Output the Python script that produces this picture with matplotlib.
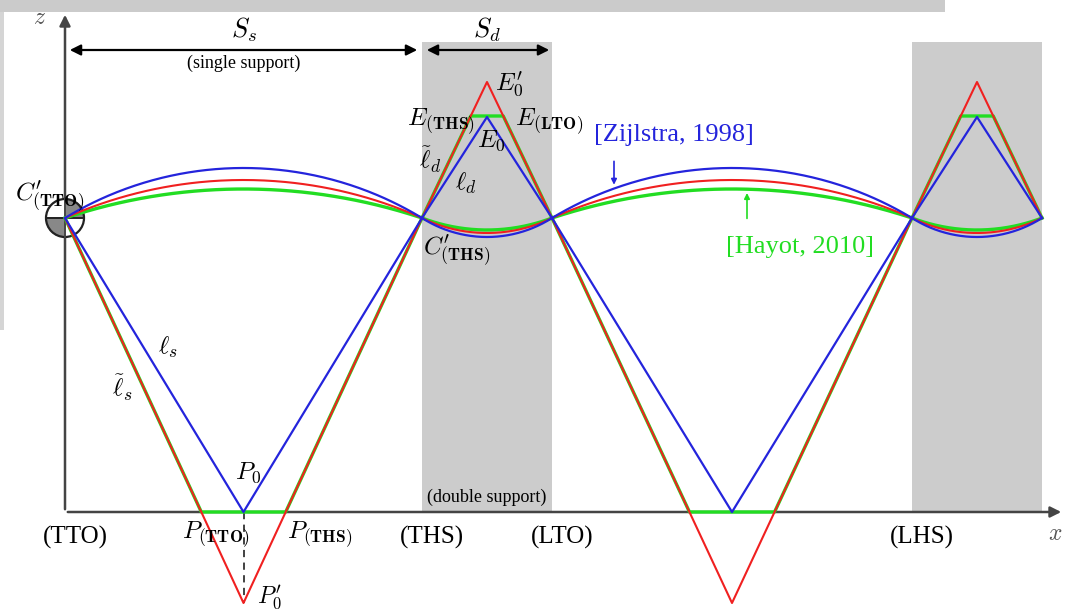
import numpy as np
import matplotlib.pyplot as plt
from matplotlib.patches import Rectangle, Wedge, Circle

plt.rcParams['font.family'] = ['Liberation Serif', 'DejaVu Serif']
plt.rcParams['mathtext.fontset'] = 'cm'

# gait phases along x (TTO at 0), units ~ pixels
phase_x = [0, 357, 487, 847, 977]
phase_kind = ['single', 'double', 'single', 'double']
event_labels = ['(TTO)', '(THS)', '(LTO)', '(LHS)']

pelvis_h = 294  # height of C' at every phase change

# three models, same order everywhere
models = ['green', 'red', 'blue']
model_colors = ['#22dd22', '#f02020', '#2424dc']
model_lw = [2.4, 1.5, 1.6]
arc_peak = [323, 332, 344]   # top of the single support arc
arc_dip = [282, 279, 275]    # bottom of the double support arc
foot_z = [0, -91, 0]         # flat foot / P0' / P0
apex_z = [396, 430, 395]     # flat E / E0' / E0

# pointers to the curves
zij_x = 549
hay_x = 682


def arc(x0, x1, h, top, n=200):
    # circle through (x0,h), (x1,h) and (mid, top)
    a = (x1 - x0) / 2
    mid = (x0 + x1) / 2
    c = (top ** 2 - a ** 2 - h ** 2) / (2 * (top - h))
    r = abs(top - c)
    xs = np.linspace(x0, x1, n)
    sgn = 1 if top > c else -1
    return xs, c + sgn * np.sqrt(r ** 2 - (xs - mid) ** 2)


def legs(x0, x1, h, tip, clip=None, ref=None):
    # triangle from (x0,h) to (mid,tip) to (x1,h); clipped flat at clip
    mid = (x0 + x1) / 2
    if clip is None:
        return [x0, mid, x1], [h, tip, h]
    t = (h - clip) / (h - ref)
    xa = x0 + t * (mid - x0)
    return [x0, xa, x1 - (xa - x0), x1], [h, clip, clip, h]


fig = plt.figure(figsize=(10.67, 6.13), dpi=100)
ax = fig.add_axes([0, 0, 1, 1])
ax.set_xlim(-65, 1002)
ax.set_ylim(-101, 512)
ax.axis('off')

# faded background strip at the top / left edge
ax.add_patch(Rectangle((-65, 500), 945, 12, color='#cbcbcb', lw=0, zorder=0))
ax.add_patch(Rectangle((-65, 182), 4, 318, color='#d5d5d5', lw=0, zorder=0))

# double support boxes
for i, kind in enumerate(phase_kind):
    if kind == 'double':
        ax.add_patch(Rectangle((phase_x[i], 0), phase_x[i + 1] - phase_x[i], 470,
                               color='#cccccc', lw=0, zorder=1))

# axes
ax.annotate('', xy=(0, 500), xytext=(0, 0),
            arrowprops=dict(arrowstyle='-|>', color='#444444', lw=1.8, mutation_scale=16),
            zorder=2)
ax.annotate('', xy=(999, 0), xytext=(0, 0),
            arrowprops=dict(arrowstyle='-|>', color='#444444', lw=1.8, mutation_scale=16),
            zorder=2)
ax.text(-25, 493, '$z$', fontsize=17, color='#555555', ha='center', va='center')
ax.text(990, -23, '$x$', fontsize=17, color='#555555', ha='center', va='center')

# CoM symbol at C'(TTO)
ax.add_patch(Wedge((0, pelvis_h), 19, 0, 90, color='#888888', zorder=3))
ax.add_patch(Wedge((0, pelvis_h), 19, 90, 180, color='white', zorder=3))
ax.add_patch(Wedge((0, pelvis_h), 19, 180, 270, color='#888888', zorder=3))
ax.add_patch(Wedge((0, pelvis_h), 19, 270, 360, color='white', zorder=3))
ax.add_patch(Circle((0, pelvis_h), 19, fill=False, ec='#222222', lw=1.6, zorder=3))
ax.plot([-19, 19], [pelvis_h, pelvis_h], color='#222222', lw=1.4, zorder=3)
ax.plot([0, 0], [pelvis_h - 19, pelvis_h + 19], color='#444444', lw=1.4, zorder=3)

# curves
ref = models.index('red')
for m, col, lw in zip(range(len(models)), model_colors, model_lw):
    for i, kind in enumerate(phase_kind):
        x0, x1 = phase_x[i], phase_x[i + 1]
        if kind == 'single':
            xs, zs = arc(x0, x1, pelvis_h, arc_peak[m])
            tip, ref_tip = foot_z[m], foot_z[ref]
        else:
            xs, zs = arc(x0, x1, pelvis_h, arc_dip[m])
            tip, ref_tip = apex_z[m], apex_z[ref]
        ax.plot(xs, zs, color=col, lw=lw, zorder=5 + m)
        if models[m] == 'green':
            lx, lz = legs(x0, x1, pelvis_h, tip, clip=tip, ref=ref_tip)
        else:
            lx, lz = legs(x0, x1, pelvis_h, tip)
        ax.plot(lx, lz, color=col, lw=lw, zorder=5 + m)

# P0 - P0' dashed
mid0 = (phase_x[0] + phase_x[1]) / 2
ax.plot([mid0, mid0], [foot_z[2], foot_z[1]], color='#333333', lw=1.3,
        ls=(0, (4, 3)), zorder=4)

# span arrows
ax.annotate('', xy=(phase_x[0] + 2, 462), xytext=(phase_x[1] - 2, 462),
            arrowprops=dict(arrowstyle='<|-|>', color='black', lw=1.6, mutation_scale=16))
ax.annotate('', xy=(phase_x[1] + 2, 462), xytext=(phase_x[2], 462),
            arrowprops=dict(arrowstyle='<|-|>', color='black', lw=1.6, mutation_scale=16))
ax.text((phase_x[0] + phase_x[1]) / 2, 482, '$S_s$', fontsize=19, ha='center', va='center')
ax.text((phase_x[1] + phase_x[2]) / 2, 482, '$S_d$', fontsize=19, ha='center', va='center')
ax.text((phase_x[0] + phase_x[1]) / 2, 449, '(single support)', fontsize=13,
        ha='center', va='center')
ax.text((phase_x[1] + phase_x[2]) / 2, 15, '(double support)', fontsize=13,
        ha='center', va='center')

# events
for x, lab in zip(phase_x[:4], event_labels):
    ax.text(x + 10, -25, lab, fontsize=18, ha='center', va='center')

# point / length labels
labels = [
    (-50, 316, "$C^{\\prime}_{\\mathbf{(TTO)}}$"),
    (358, 262, "$C^{\\prime}_{\\mathbf{(THS)}}$"),
    (430, 428, "$E^{\\prime}_0$"),
    (342, 390, "$E_{\\mathbf{(THS)}}$"),
    (450, 390, "$E_{\\mathbf{(LTO)}}$"),
    (412, 371, "$E_0$"),
    (354, 352, "$\\tilde{\\ell}_d$"),
    (390, 329, "$\\ell_d$"),
    (93, 165, "$\\ell_s$"),
    (47, 124, "$\\tilde{\\ell}_s$"),
    (170, 39, "$P_0$"),
    (117, -23, "$P_{\\mathbf{(TTO)}}$"),
    (222, -23, "$P_{\\mathbf{(THS)}}$"),
]
for x, z, s in labels:
    ax.text(x, z, s, fontsize=18, ha='left', va='center', zorder=8)
ax.text(192, -100, "$P^{\\prime}_0$", fontsize=17, ha='left', va='bottom', zorder=8)

# model references
xs, zs = arc(phase_x[2], phase_x[3], pelvis_h, arc_peak[2])
zz = np.interp(zij_x, xs, zs)
ax.annotate('', xy=(zij_x, zz + 1), xytext=(zij_x, zz + 30),
            arrowprops=dict(arrowstyle='-|>', color='#2424dc', lw=1.2, mutation_scale=8))
ax.text(609, 377, '[Zijlstra, 1998]', fontsize=19, color='#2424dc', ha='center', va='center')
xs, zs = arc(phase_x[2], phase_x[3], pelvis_h, arc_peak[0])
zz = np.interp(hay_x, xs, zs)
ax.annotate('', xy=(hay_x, zz - 1), xytext=(hay_x, zz - 32),
            arrowprops=dict(arrowstyle='-|>', color='#22dd22', lw=1.2, mutation_scale=8))
ax.text(735, 265, '[Hayot, 2010]', fontsize=19, color='#22dd22', ha='center', va='center')

fig.savefig('out.png', dpi=100)
